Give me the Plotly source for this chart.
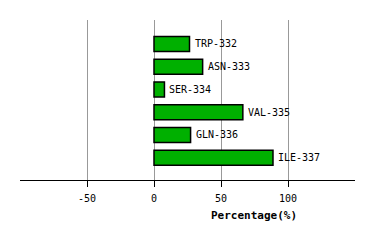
import plotly.graph_objects as go

residues = ["TRP-332", "ASN-333", "SER-334", "VAL-335", "GLN-336", "ILE-337"]
percentages = [26.5, 36.3, 7.8, 66.3, 27.3, 88.8]
tick_vals = [-50, 0, 50, 100]
tick_text = ["-50", "0", "50", "100"]

ypos = list(range(len(residues)))
mono = "DejaVu Sans Mono"

fig = go.Figure()
fig.add_trace(go.Bar(
    x=percentages, y=ypos, orientation="h",
    width=0.66,
    marker=dict(color="#00b000", line=dict(color="black", width=1.5)),
    hoverinfo="skip",
))

for yv, xv, lab in zip(ypos, percentages, residues):
    fig.add_annotation(x=xv, y=yv, text=lab, showarrow=False, xanchor="left",
                       yanchor="middle", xshift=3,
                       font=dict(family=mono, size=10, color="black"))

fig.add_annotation(x=0.699, y=0, xref="paper", yref="paper", yshift=-35,
                   text="<b>Percentage(%)</b>", showarrow=False,
                   xanchor="center", yanchor="middle",
                   font=dict(family=mono, size=11, color="black"))

fig.update_layout(
    width=374, height=240,
    margin=dict(l=20, r=19, t=20, b=60),
    paper_bgcolor="white", plot_bgcolor="white",
    showlegend=False,
    xaxis=dict(range=[-100, 150], tickvals=tick_vals, ticktext=tick_text,
               showgrid=True, gridcolor="#999999", gridwidth=1,
               zeroline=False, showline=True, linecolor="black", linewidth=1,
               ticks="outside", ticklen=6, tickcolor="black",
               ticklabelstandoff=3,
               tickfont=dict(family=mono, size=10, color="black")),
    yaxis=dict(range=[5.98, -1.05], showgrid=False, zeroline=False,
               showticklabels=False, showline=False, ticks=""),
)

fig.write_html("out.html")
